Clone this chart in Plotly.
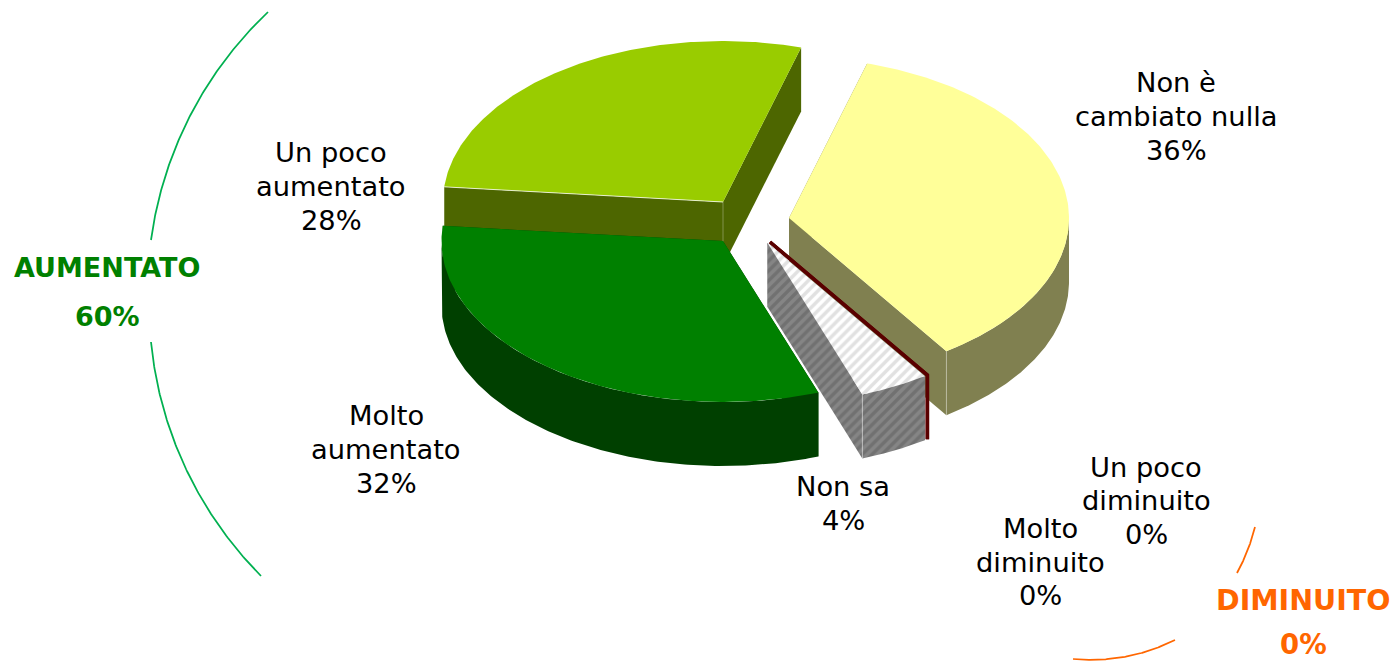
import numpy as np
import plotly.graph_objects as go

# --- data ---
categories = [["Non è", "cambiato nulla"], ["Molto", "diminuito"], ["Un poco", "diminuito"], ["Non sa"],
              ["Molto", "aumentato"], ["Un poco", "aumentato"]]
shares = [36, 0, 0, 4, 32, 28]
group_names = ["AUMENTATO", "DIMINUITO"]
group_values = [shares[4] + shares[5], shares[1] + shares[2]]

# --- styles and layout ---
W, H = 1390, 661
RADII_X = [280, 280, 280, 280, 281.5, 280]
B, DEPTH = 161, 64
START = 73.8
CENTERS = [(789, 218), (770, 242), (770, 242), (767.5, 243), (723, 241), (723, 202)]
TOP = ["#FFFF99", "#5A0000", "#5A0000", "#FFFFFF", "#008000", "#99CC00"]
SIDE = ["#808050", "#5A0000", "#5A0000", "#858585", "#004000", "#4D6600"]
DRAW_ORDER = [0, 5, 3, 1, 2, 4]
LABEL_POS = [(1176, 116.4), (1040, 562), (1146, 500.6), (843, 503.5), (386, 449.4), (331, 186.4)]
LINE_STEP = 33.6
FONT = "DejaVu Sans"
FONT_SIZE = 27.3

edges = START - np.cumsum([0] + shares) * 3.6


def rim(c, a, t0, t1, n=160):
    t = np.radians(np.linspace(t0, t1, n))
    return c[0] + a * np.cos(t), c[1] - B * np.sin(t)


def poly(fig, x, y, color, pattern=None):
    fig.add_trace(go.Scatter(x=list(x), y=list(y), mode="lines", fill="toself", fillcolor=color,
                             fillpattern=pattern, line=dict(width=0, color=color),
                             hoverinfo="skip", showlegend=False))


def seg(fig, x, y, color, width):
    fig.add_trace(go.Scatter(x=list(x), y=list(y), mode="lines", line=dict(color=color, width=width),
                             hoverinfo="skip", showlegend=False))


def arc(p0, p1, r, side):
    p0, p1 = np.array(p0, float), np.array(p1, float)
    m, d = (p0 + p1) / 2, p1 - p0
    L = np.hypot(*d)
    n = np.array([-d[1], d[0]]) / L
    c = m + side * n * np.sqrt(r * r - L * L / 4)
    a0 = np.arctan2(*(p0 - c)[::-1])
    a1 = np.arctan2(*(p1 - c)[::-1])
    da = (a1 - a0 + np.pi) % (2 * np.pi) - np.pi
    t = np.linspace(a0, a0 + da, 120)
    return c[0] + r * np.cos(t), c[1] + r * np.sin(t)


fig = go.Figure()
for i in DRAW_ORDER:
    c, A = CENTERS[i], RADII_X[i]
    t0, t1 = edges[i], edges[i + 1]
    x0, y0 = rim(c, A, t0, t0, 1)
    x1, y1 = rim(c, A, t1, t1, 1)
    if shares[i] == 0:
        seg(fig, [c[0], x0[0], x0[0]], [c[1], y0[0], y0[0] + DEPTH], TOP[i], 3.5)
        continue
    top_pat = side_pat = None
    if categories[i][0] == "Non sa":
        top_pat = dict(shape="/", size=7, solidity=0.5, fgcolor="#C4C4C4", bgcolor="#FFFFFF")
        side_pat = dict(shape="/", size=7, solidity=0.5, fgcolor="#5E5E5E", bgcolor="#858585")
    # cut faces
    for xe, ye in ((x0[0], y0[0]), (x1[0], y1[0])):
        poly(fig, [c[0], xe, xe, c[0]], [c[1], ye, ye + DEPTH, c[1] + DEPTH], SIDE[i], side_pat)
    # outer wall: only the part turned toward the viewer
    lo, hi = max(t1, -180), min(t0, 0)
    if hi > lo:
        rx, ry = rim(c, A, hi, lo)
        poly(fig, np.r_[rx, rx[::-1]], np.r_[ry, ry[::-1] + DEPTH], SIDE[i], side_pat)
    # top face
    rx, ry = rim(c, A, t0, t1)
    poly(fig, np.r_[c[0], rx], np.r_[c[1], ry], TOP[i], top_pat)
    # light seams
    if categories[i][0] == "Un poco" and categories[i][1] == "aumentato":
        seg(fig, [x0[0], c[0]], [y0[0], c[1]], "rgba(255,255,255,0.75)", 1)
        seg(fig, [c[0], c[0]], [c[1], c[1] + DEPTH], "rgba(255,255,255,0.3)", 1)
    elif categories[i][0] == "Non è":
        seg(fig, [x1[0], x1[0]], [y1[0], y1[0] + DEPTH], "rgba(255,255,255,0.3)", 1)
    elif categories[i][0] == "Non sa":
        seg(fig, [x1[0], x1[0]], [y1[0], y1[0] + DEPTH], "rgba(255,255,255,0.4)", 1)

GREEN_ARC, ORANGE_ARC = "#00B050", "#FF6600"
for p0, p1, r, s, col in [((268, 12), (151, 240), 385, -1, GREEN_ARC),
                          ((151, 342), (261, 576), 385, -1, GREEN_ARC),
                          ((1255, 527), (1237, 573), 187, 1, ORANGE_ARC),
                          ((1175, 640), (1073, 659), 187, 1, ORANGE_ARC)]:
    ax, ay = arc(p0, p1, r, s)
    seg(fig, ax, ay, col, 1.75)

ann = []
for name, v, (x, yc) in zip(categories, shares, LABEL_POS):
    lines = name + [f"{v}%"]
    for k, txt in enumerate(lines):
        ann.append(dict(x=x, y=yc + (k - (len(lines) - 1) / 2) * LINE_STEP, text=txt, showarrow=False,
                        xanchor="center", yanchor="middle",
                        font=dict(family=FONT, size=FONT_SIZE, color="#000000")))
for name, v, x, y0, pct_y, col, fs, pct_fs in zip(group_names, group_values, [107, 1303], [267.5, 600], [315.5, 643.5],
                                                  ["#008000", "#FF6600"], [27, 28.5], [27, 27.5]):
    ann.append(dict(x=x, y=y0, text=f"<b>{name}</b>", showarrow=False, xanchor="center", yanchor="middle",
                    font=dict(family=FONT, size=fs, color=col)))
    ann.append(dict(x=x, y=pct_y, text=f"<b>{v}%</b>", showarrow=False, xanchor="center", yanchor="middle",
                    height=26, font=dict(family=FONT, size=pct_fs, color=col)))

fig.update_layout(width=W, height=H, margin=dict(l=0, r=0, t=0, b=0), autosize=False,
                  paper_bgcolor="white", plot_bgcolor="white", showlegend=False, annotations=ann,
                  xaxis=dict(range=[0, W], visible=False, fixedrange=True),
                  yaxis=dict(range=[H, 0], visible=False, fixedrange=True))
fig.write_html("out.html", config={"displayModeBar": False},
               post_script="document.body.style.margin='0';document.documentElement.style.overflow='hidden';")
